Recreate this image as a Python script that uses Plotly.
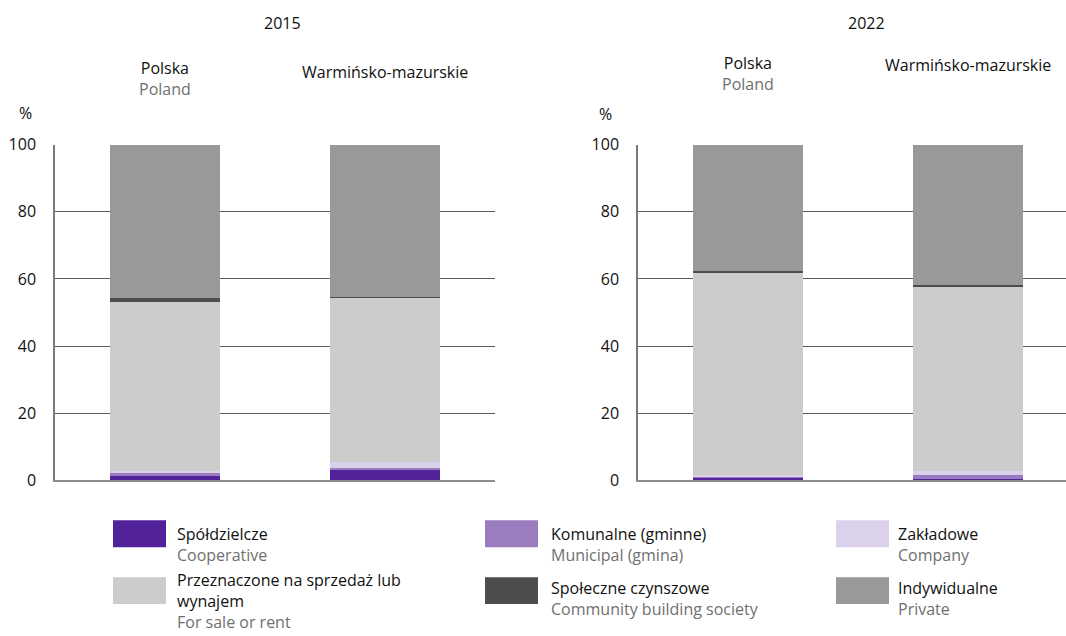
import plotly.graph_objects as go

# categories and years
regions = ["Polska", "Warmińsko-mazurskie"]
region_en = ["Poland", ""]
years = ["2015", "2022"]

# series names (pl / en) and colours
series_pl = ["Spółdzielcze", "Komunalne (gminne)", "Zakładowe",
             "Przeznaczone na sprzedaż lub<br>wynajem", "Społeczne czynszowe", "Indywidualne"]
series_en = ["Cooperative", "Municipal (gmina)", "Company",
             "For sale or rent", "Community building society", "Private"]
colors = ["#51229a", "#9a7dbf", "#dcd1ea", "#cccccc", "#4d4d4d", "#999999"]

# shares in % (Polska, Warmińsko-mazurskie)
coop_2015 = [1.3, 3.5]
muni_2015 = [0.9, 0.2]
company_2015 = [0.6, 1.9]
forsale_2015 = [50.4, 48.9]
community_2015 = [1.0, 0.1]
private_2015 = [45.8, 45.4]

coop_2022 = [0.7, 0.5]
muni_2022 = [0.6, 1.2]
company_2022 = [0.2, 1.0]
forsale_2022 = [60.4, 54.9]
community_2022 = [0.5, 0.7]
private_2022 = [37.6, 41.7]

data_2015 = [coop_2015, muni_2015, company_2015, forsale_2015, community_2015, private_2015]
data_2022 = [coop_2022, muni_2022, company_2022, forsale_2022, community_2022, private_2022]

W, H = 1066, 636


def px(xp):
    return xp / W


def py(yp):
    # the photographed page shows the figure squeezed into rows ~10..626,
    # so map wanted picture rows back onto figure rows
    return 1 - ((yp - 10) / 0.9686) / H


FONT = "Open Sans"
FS = 16
GREY_TXT = "#707070"

fig = go.Figure()

for values_by_series, xa, ya in [(data_2015, "x", "y"), (data_2022, "x2", "y2")]:
    for name, vals, col in zip(series_en, values_by_series, colors):
        fig.add_bar(x=regions, y=vals, name=name, marker_color=col,
                    marker_line_width=0, width=0.5, xaxis=xa, yaxis=ya,
                    showlegend=False)

ydom = [py(481), py(144)]
axis_common = dict(range=[0, 100], dtick=20, showgrid=True, gridcolor="#5a5a5a",
                   gridwidth=1, zeroline=False, showline=True, linecolor="#7a7a7a",
                   linewidth=1.5, ticks="", ticklabelstandoff=14,
                   tickfont=dict(size=FS, color="#111"), domain=ydom)

fig.update_layout(
    width=W, height=H,
    margin=dict(l=0, r=0, t=0, b=0),
    paper_bgcolor="white", plot_bgcolor="white",
    barmode="stack",
    font=dict(family=FONT, size=FS, color="#111"),
    xaxis=dict(domain=[px(55), px(495)], range=[-0.5, 1.5], type="category",
               showticklabels=False, showgrid=False, showline=True,
               linecolor="#8c8c8c", linewidth=2, anchor="y"),
    xaxis2=dict(domain=[px(638), 1], range=[-0.5, 1.445], type="category",
                showticklabels=False, showgrid=False, showline=True,
                linecolor="#8c8c8c", linewidth=2, anchor="y2"),
    yaxis=dict(anchor="x", **axis_common),
    yaxis2=dict(anchor="x2", **axis_common),
)

# year titles, category headers, unit labels
for yr, xp in zip(years, (282, 866)):
    fig.add_annotation(text=yr, x=px(xp), y=py(22), xref="paper", yref="paper",
                       xanchor="center", yanchor="middle", showarrow=False)

for xa, ytops in [("x", (54.3, 58.3)), ("x2", (49.6, 51.3))]:
    for reg, en, yt in zip(regions, region_en, ytops):
        label = reg if not en else f"{reg}<br><span style='color:{GREY_TXT}'>{en}</span>"
        fig.add_annotation(text=label, x=reg, xref=xa, y=py(yt), yref="paper",
                           xanchor="center", yanchor="top", showarrow=False)

for xp, yp in ((25, 112), (605, 113)):
    fig.add_annotation(text="%", x=px(xp), y=py(yp), xref="paper", yref="paper",
                       xanchor="center", yanchor="middle", showarrow=False)

# custom legend: 3 columns x 2 rows
col_x = [113, 485, 836]
text_x = [175, 549, 896]
row_y = [521, 578]
text_top = [[521.6, 575.6, 575.6], [567.6, 575.6, 575.6]]
for i, (pl, en, col) in enumerate(zip(series_pl, series_en, colors)):
    c, r = i % 3, i // 3
    fig.add_shape(type="rect", xref="paper", yref="paper",
                  x0=px(col_x[c]), x1=px(col_x[c] + 53),
                  y0=py(row_y[r]), y1=py(row_y[r] + 27),
                  fillcolor=col, line_width=0)
    fig.add_annotation(text=f"{pl}<br><span style='color:{GREY_TXT}'>{en}</span>",
                       x=px(text_x[c]), y=py(text_top[r][c] if r else text_top[0][0]),
                       xref="paper", yref="paper",
                       xanchor="left", yanchor="top", align="left",
                       showarrow=False)

# pin the figure to the top-left corner of the window, no margins or scrollbars
page_fix = ("document.body.style.margin='0';"
            "document.body.style.overflow='hidden';"
            "document.documentElement.style.overflow='hidden';"
            "var d=document.getElementById('{plot_id}');"
            "d.style.position='fixed';d.style.top='0';d.style.left='0';")
fig.write_html("out.html", config={"displayModeBar": False}, post_script=page_fix)
